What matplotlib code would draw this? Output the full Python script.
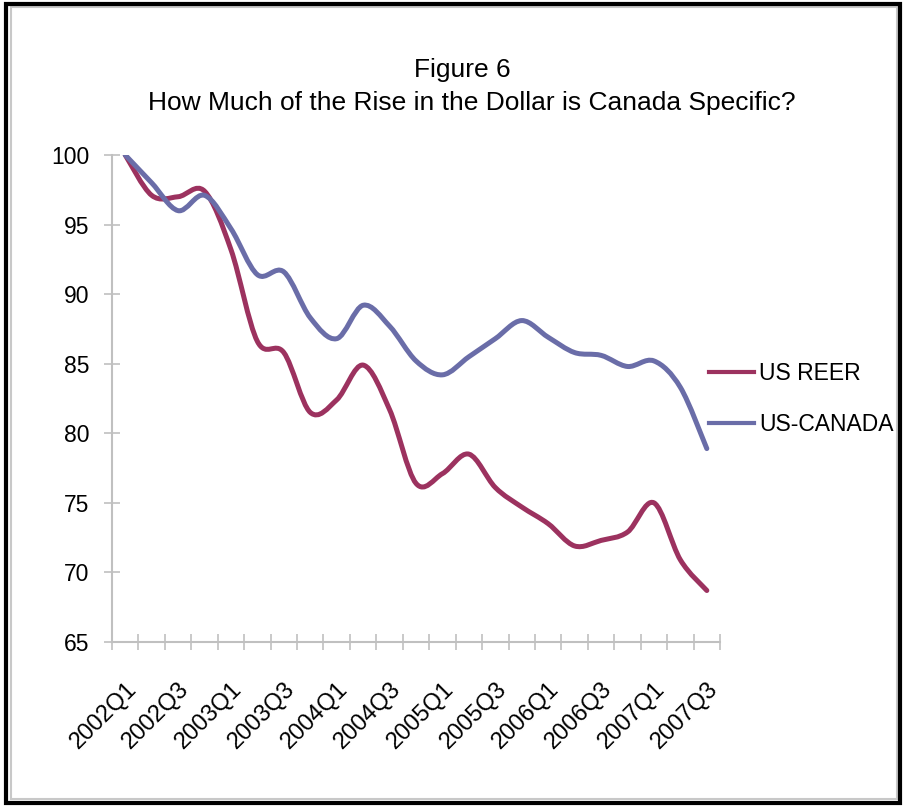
import matplotlib
matplotlib.use("Agg")
import matplotlib.pyplot as plt
from matplotlib.path import Path
from matplotlib.patches import PathPatch, Rectangle
from matplotlib.lines import Line2D

plt.rcParams['font.family'] = ['Liberation Sans', 'DejaVu Sans']

# quarterly index, 2002Q1 = 100
quarters = ['2002Q1', '2002Q2', '2002Q3', '2002Q4',
            '2003Q1', '2003Q2', '2003Q3', '2003Q4',
            '2004Q1', '2004Q2', '2004Q3', '2004Q4',
            '2005Q1', '2005Q2', '2005Q3', '2005Q4',
            '2006Q1', '2006Q2', '2006Q3', '2006Q4',
            '2007Q1', '2007Q2', '2007Q3']
us_reer = [100, 97.1, 97.0, 97.4, 93.2, 86.6, 85.8, 81.5, 82.4, 84.9, 81.7, 76.4,
           77.1, 78.5, 76.1, 74.7, 73.5, 71.9, 72.3, 72.9, 75.0, 70.9, 68.7]
us_canada = [100, 98.0, 96.0, 97.1, 94.7, 91.4, 91.6, 88.3, 86.8, 89.2, 87.7, 85.2,
             84.2, 85.5, 86.8, 88.1, 86.9, 85.8, 85.6, 84.8, 85.2, 83.3, 78.9]
series_names = ['US REER', 'US-CANADA']
series_colors = ['#9c325f', '#6a6da8']


def smooth_path(xs, ys):
    # Excel-style smoothed line: catmull-rom segments as cubic beziers
    n = len(xs)
    verts = [(xs[0], ys[0])]
    codes = [Path.MOVETO]
    for i in range(n - 1):
        p0 = max(i - 1, 0)
        p3 = min(i + 2, n - 1)
        c1 = (xs[i] + (xs[i + 1] - xs[p0]) / 6, ys[i] + (ys[i + 1] - ys[p0]) / 6)
        c2 = (xs[i + 1] - (xs[p3] - xs[i]) / 6, ys[i + 1] - (ys[p3] - ys[i]) / 6)
        verts += [c1, c2, (xs[i + 1], ys[i + 1])]
        codes += [Path.CURVE4] * 3
    return Path(verts, codes)


fig = plt.figure(figsize=(9.04, 8.06), dpi=100)
ax = fig.add_axes([0.1239, 0.2035, 0.6726, 0.6042])

x = list(range(len(quarters)))
handles = []
for vals, name, col in zip([us_reer, us_canada], series_names, series_colors):
    ax.add_patch(PathPatch(smooth_path(x, vals), facecolor='none', edgecolor=col,
                           lw=3.6, capstyle='round', joinstyle='round'))
    handles.append(Line2D([], [], color=col, lw=3.0, label=name))

ax.set_xlim(-0.5, len(quarters) - 0.5)
ax.set_ylim(65, 100)
ax.set_yticks(range(65, 101, 5))

ax.set_xticks(x[::2])
ax.set_xticklabels(quarters[::2], rotation=45, ha='right', va='top',
                   rotation_mode='anchor', fontsize=17)
ax.set_xticks([i - 0.5 for i in range(len(quarters) + 1)], minor=True)
ax.tick_params(axis='x', which='major', length=0, pad=26)
ax.tick_params(axis='x', which='minor', direction='inout', length=12,
               color='#c0c0c0', width=1.2)
ax.tick_params(axis='y', direction='inout', length=11, color='#c0c0c0',
               width=1.2, labelsize=16.5, pad=11)

for s in ['top', 'right']:
    ax.spines[s].set_visible(False)
for s in ['left', 'bottom']:
    ax.spines[s].set_color('#c0c0c0')
    ax.spines[s].set_linewidth(1.5)

fig.text(0.511, 0.9048, 'Figure 6', ha='center', va='baseline', fontsize=19)
fig.text(0.522, 0.8635, 'How Much of the Rise in the Dollar is Canada Specific?',
         ha='center', va='baseline', fontsize=19)

fig.legend(handles=handles, loc='center left', bbox_to_anchor=(0.761, 0.505),
           frameon=False, fontsize=16.5, handlelength=2.0, handletextpad=0.2,
           labelspacing=1.25)

# frame around the picture
fig.patches.append(Rectangle((0.012, 0.009), 0.98, 0.982, transform=fig.transFigure,
                             fill=False, edgecolor='#c8c8c8', lw=1.5))
fig.patches.append(Rectangle((0.007, 0.004), 0.989, 0.991, transform=fig.transFigure,
                             fill=False, edgecolor='black', lw=3))

fig.savefig('out.png', dpi=100)
